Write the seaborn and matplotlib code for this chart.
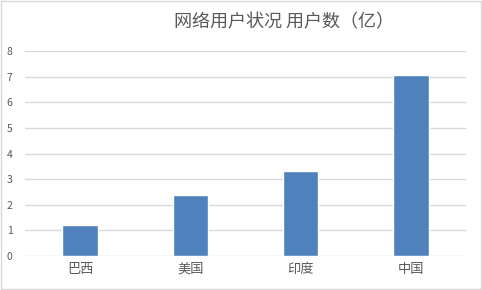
import matplotlib
matplotlib.use("Agg")
import matplotlib.pyplot as plt
import seaborn as sns
import pandas as pd
from matplotlib.patches import Rectangle

categories = ["巴西", "美国", "印度", "中国"]
users = [1.2, 2.4, 3.3, 7.05]
y_ticks = [0, 1, 2, 3, 4, 5, 6, 7, 8]
title = "网络用户状况 用户数（亿）"

sns.set_theme(style="white")
plt.rcParams['font.family'] = ['Noto Sans CJK SC', 'DejaVu Sans']

df = pd.DataFrame({"country": categories, "users": users})

fig = plt.figure(figsize=(4.82, 2.90), dpi=100)
ax = fig.add_axes([25/482, 1-256/290, (466-25)/482, (256-51)/290])
sns.barplot(data=df, x="country", y="users", color="#4F81BD", width=0.32,
            saturation=1, ax=ax, zorder=3)
ax.set_ylim(0, 8)
ax.set_xlim(-0.5, 3.5)
ax.set_yticks(y_ticks)
ax.set_yticklabels([str(t) for t in y_ticks], fontsize=7.5, color="#595959")
ax.tick_params(axis='x', labelsize=9.5, labelcolor="#595959", length=0, pad=5)
ax.tick_params(axis='y', length=0, pad=9)
ax.grid(axis='y', color="#D9D9D9", linewidth=1, zorder=0)
ax.set_axisbelow(True)
for s in ax.spines.values():
    s.set_visible(False)
ax.set_xlabel("")
ax.set_ylabel("")

fig.text(284/482, 1-22/290, title, ha="center", va="center", fontsize=13,
         color="#595959", fontweight="light")
fig.patches.append(Rectangle((0.5/482, 1.5/290), 480/482, 287.5/290,
                             transform=fig.transFigure, fill=False,
                             edgecolor="#D9D9D9", linewidth=1))
fig.savefig("out.png", dpi=100)
